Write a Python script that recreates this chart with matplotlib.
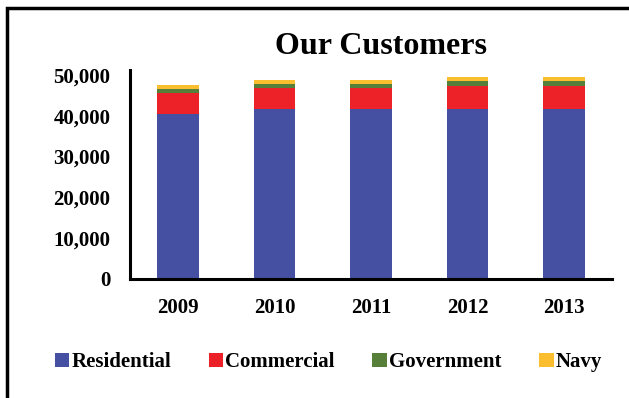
import numpy as np
import matplotlib
matplotlib.use("Agg")
import matplotlib.pyplot as plt
from matplotlib.patches import Rectangle

years = ["2009", "2010", "2011", "2012", "2013"]
residential = [40500, 41650, 41650, 41650, 41650]
commercial = [5100, 5150, 5150, 5650, 5650]
government = [1000, 1000, 1000, 1200, 1200]
navy = [1000, 1000, 1000, 1000, 1000]

series = [
    ("Residential", residential, "#4550A2"),
    ("Commercial", commercial, "#ED2228"),
    ("Government", government, "#56803A"),
    ("Navy", navy, "#FBBE2E"),
]

plt.rcParams["font.family"] = ["Liberation Serif", "DejaVu Serif"]
plt.rcParams["font.weight"] = "bold"

fig = plt.figure(figsize=(6.29, 3.98), dpi=100)
ax = fig.add_axes([130 / 629, 119 / 398, 482 / 629, 209 / 398])

x = np.arange(len(years))
bottom = np.zeros(len(years))
for name, vals, color in series:
    ax.bar(x, vals, 0.43, bottom=bottom, color=color, label=name, zorder=2)
    bottom += np.array(vals)

ax.set_xlim(-0.5, len(years) - 0.5)
ax.set_ylim(0, 51200)
ax.set_yticks(range(0, 50001, 10000))
ax.set_yticklabels([f"{v:,}" for v in range(0, 50001, 10000)])
ax.set_xticks(x)
ax.set_xticklabels(years)
ax.tick_params(axis="both", length=0, labelsize=15)
ax.tick_params(axis="x", pad=14)
ax.tick_params(axis="y", pad=14)
for lbl in ax.get_xticklabels() + ax.get_yticklabels():
    lbl.set_fontweight("bold")

for side in ["top", "right"]:
    ax.spines[side].set_visible(False)
for side in ["left", "bottom"]:
    ax.spines[side].set_linewidth(2.2)
    ax.spines[side].set_color("black")

fig.text(381 / 629, 1 - 46 / 398, "Our Customers", ha="center", va="center",
         fontsize=23, fontweight="bold")

leg = fig.legend(loc="center", bbox_to_anchor=(0.522, 0.09), ncol=4, frameon=False,
                 handlelength=0.7, handleheight=0.7, handletextpad=0.1,
                 columnspacing=1.8, prop={"size": 15, "weight": "bold"})

# outer chart border running off the right and bottom edges
fig.patches.append(Rectangle((7 / 629, -0.1), 1.2, 1.1 - 8 / 398,
                             transform=fig.transFigure, fill=False,
                             edgecolor="black", linewidth=2.5, zorder=10))

fig.savefig("out.png", dpi=100)
